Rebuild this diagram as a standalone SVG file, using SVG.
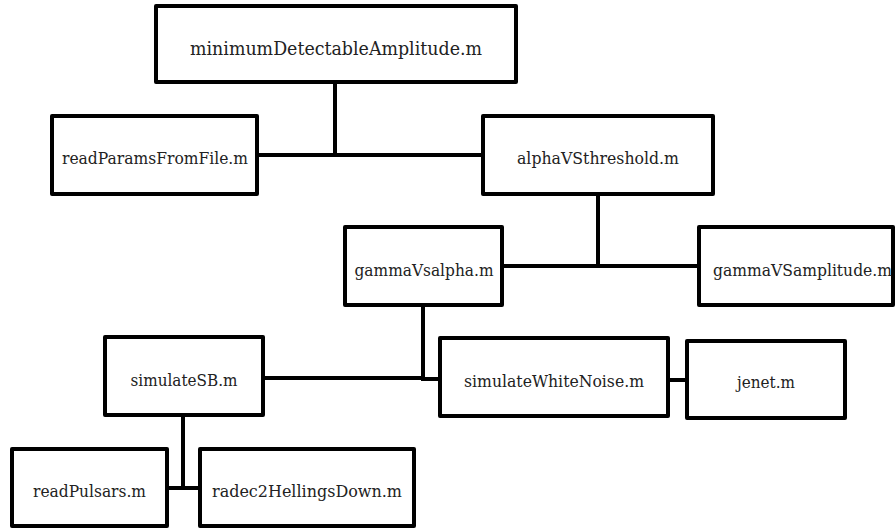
<svg xmlns="http://www.w3.org/2000/svg" width="896" height="529" viewBox="0 0 896 529">
<style>
.box{fill:#fff;stroke:#000;stroke-width:4;stroke-linejoin:round}
.lbl{font-family:"DejaVu Serif","Liberation Serif",serif;font-size:16px;fill:#222;text-anchor:middle}
.big{font-size:19px}
.conn line{stroke:#000;stroke-width:4;stroke-linecap:square}
</style>
<rect width="896" height="529" fill="#fff"/>
<g class="conn" id="connectors">
<line x1="335" y1="82" x2="335" y2="155"/>
<line x1="257" y1="155" x2="483" y2="155"/>
<line x1="598" y1="194" x2="598" y2="266"/>
<line x1="502" y1="266" x2="699" y2="266"/>
<line x1="423" y1="305" x2="423" y2="379"/>
<line x1="263" y1="378" x2="423" y2="378"/>
<line x1="423" y1="379" x2="440" y2="379"/>
<line x1="668" y1="380" x2="687" y2="380"/>
<line x1="183" y1="415" x2="183" y2="488"/>
<line x1="167" y1="488" x2="200" y2="488"/>
</g>
<g id="minimumDetectableAmplitude">
<rect class="box" x="156" y="6" width="360" height="76"/>
<text class="lbl big" x="336" y="55" textLength="292" lengthAdjust="spacingAndGlyphs">minimumDetectableAmplitude.m</text>
</g>
<g id="readParamsFromFile">
<rect class="box" x="52" y="116" width="205" height="78"/>
<text class="lbl" x="155" y="164" textLength="186" lengthAdjust="spacingAndGlyphs">readParamsFromFile.m</text>
</g>
<g id="alphaVSthreshold">
<rect class="box" x="483" y="116" width="230" height="78"/>
<text class="lbl" x="598" y="164" textLength="162" lengthAdjust="spacingAndGlyphs">alphaVSthreshold.m</text>
</g>
<g id="gammaVsalpha">
<rect class="box" x="345" y="227" width="157" height="78"/>
<text class="lbl" x="424" y="276" textLength="139" lengthAdjust="spacingAndGlyphs">gammaVsalpha.m</text>
</g>
<g id="gammaVSamplitude">
<rect class="box" x="699" y="227" width="194" height="78"/>
<text class="lbl" x="802.5" y="276" textLength="179" lengthAdjust="spacingAndGlyphs">gammaVSamplitude.m</text>
</g>
<g id="simulateSB">
<rect class="box" x="105" y="337" width="158" height="78"/>
<text class="lbl" x="184" y="386" textLength="107" lengthAdjust="spacingAndGlyphs">simulateSB.m</text>
</g>
<g id="simulateWhiteNoise">
<rect class="box" x="440" y="338" width="228" height="78"/>
<text class="lbl" x="554" y="387" textLength="180" lengthAdjust="spacingAndGlyphs">simulateWhiteNoise.m</text>
</g>
<g id="jenet">
<rect class="box" x="687" y="341" width="158" height="77"/>
<text class="lbl" x="766" y="388" textLength="58" lengthAdjust="spacingAndGlyphs">jenet.m</text>
</g>
<g id="readPulsars">
<rect class="box" x="12" y="449" width="155" height="77"/>
<text class="lbl" x="89.5" y="497" textLength="113" lengthAdjust="spacingAndGlyphs">readPulsars.m</text>
</g>
<g id="radec2HellingsDown">
<rect class="box" x="200" y="449" width="214" height="77"/>
<text class="lbl" x="307" y="497" textLength="190" lengthAdjust="spacingAndGlyphs">radec2HellingsDown.m</text>
</g>
</svg>
